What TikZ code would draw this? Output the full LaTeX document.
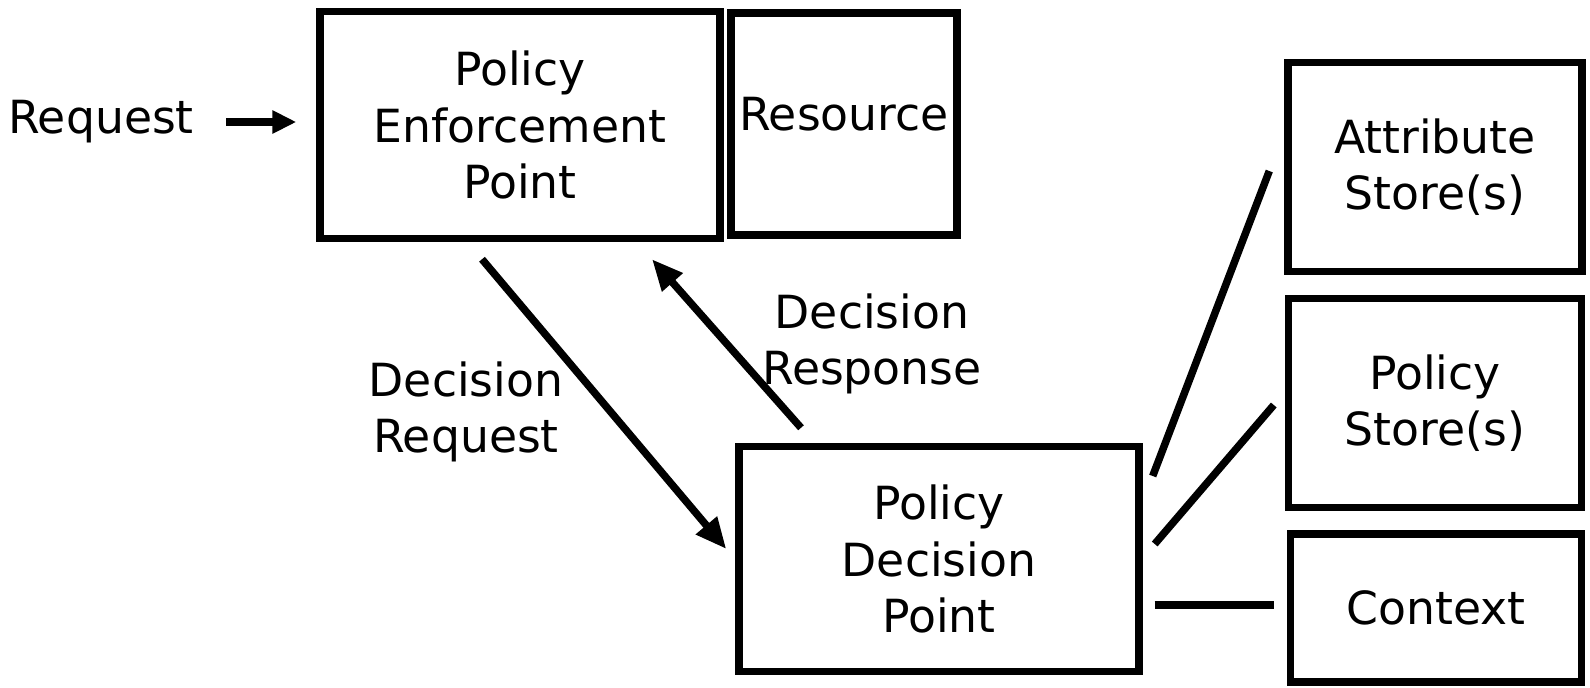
\documentclass[tikz,border=0pt]{standalone}
\usepackage{fontspec}
\setmainfont{DejaVu Sans}
\usetikzlibrary{arrows.meta}

\begin{document}
\begin{tikzpicture}[line cap=butt,line join=miter,>={Triangle[length=0.62cm,width=0.52cm]},x=0.02cm,y=-0.02cm,
  every node/.style={font=\fontsize{26}{32}\selectfont,align=center},
  box/.style={draw,line width=0.15cm},
  link/.style={line width=0.15cm}]
\useasboundingbox (0,0) rectangle (1590,687);
\node[box,minimum width=8cm,minimum height=4.54cm] (pep) at (520,125) {Policy\\Enforcement\\Point};
\node[box,minimum width=4.52cm,minimum height=4.44cm,text depth=0.4cm] (res) at (844,124) {Resource};
\node[box,minimum width=8cm,minimum height=4.5cm] (pdp) at (939,559) {Policy\\Decision\\Point};
\node[box,minimum width=5.88cm,minimum height=4.18cm] (attr) at (1435,167) {Attribute\\Store(s)};
\node[box,minimum width=5.86cm,minimum height=4.18cm] (pstore) at (1435,403) {Policy\\Store(s)};
\node[box,minimum width=5.82cm,minimum height=2.96cm] (ctx) at (1436,608) {Context};
\node[inner sep=0] (request) at (101,122) {Request};
\node (dreq) at (466,412) {Decision\\Request};
\node (dresp) at (872,344) {Decision\\Response};
\draw[link,-{Triangle[length=0.48cm,width=0.44cm]},shorten <=0.64cm,shorten >=0.4cm] (request.east) -- (request.east -| pep.west);
\draw[link,->] ([shift={(-38,17)}]pep.south) -- ([shift={(-9,-10)}]pdp.west);
\draw[link,->] ([shift={(-138,-15)}]pdp.north) -- ([shift={(132,17)}]pep.south);
\draw[link] ([shift={(10,-83)}]pdp.east) -- ([shift={(-15,4)}]attr.west);
\draw[link] ([shift={(12,-15)}]pdp.east) -- ([shift={(-11,2)}]pstore.west);
\draw[link] ([shift={(12,46)}]pdp.east) -- ([shift={(-13,-3)}]ctx.west);
\end{tikzpicture}
\end{document}
